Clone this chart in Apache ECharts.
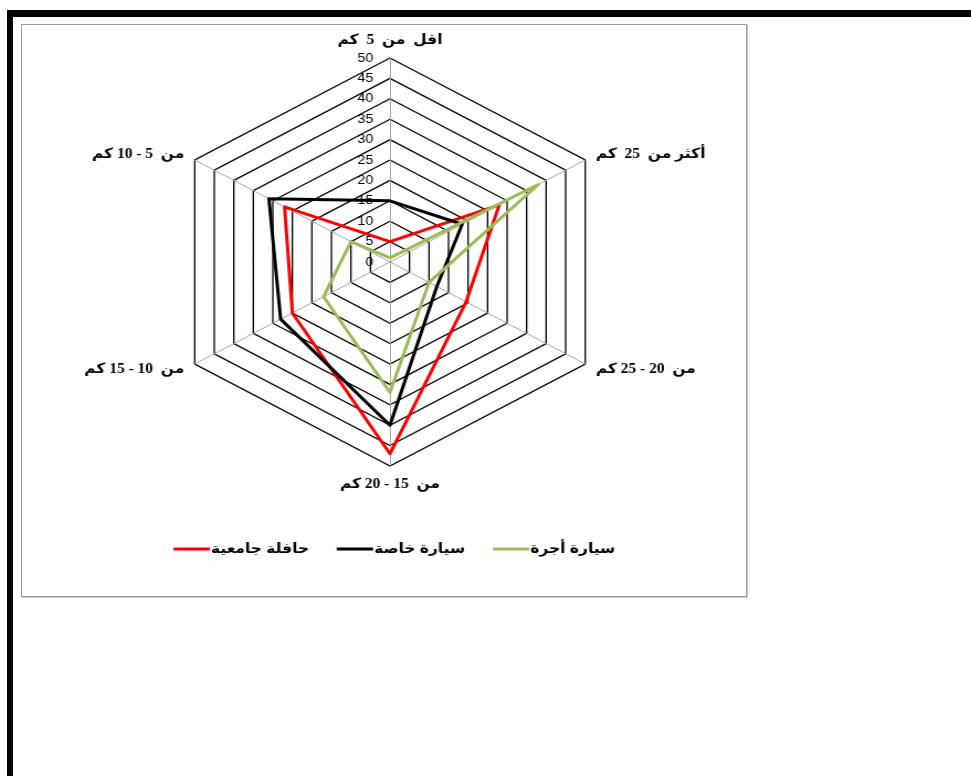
<!DOCTYPE html>
<html>
<head>
<meta charset="utf-8">
<script src="https://cdn.jsdelivr.net/npm/echarts@6/dist/echarts.min.js"></script>
<style>
  html, body { margin: 0; padding: 0; background: #fff; }
  body { width: 971px; height: 776px; position: relative; overflow: hidden; }
  .bar-top { position: absolute; left: 7px; top: 10px; width: 964px; height: 7px; background: #000; }
  .bar-left { position: absolute; left: 7px; top: 10px; width: 6px; height: 766px; background: #000; }
  .frame { position: absolute; left: 21px; top: 24px; width: 724px; height: 571px;
           border: 1px solid #9a9a9a; box-shadow: 1px 1px 0 #c8c8c8; background: #fff; }
  #chart { position: absolute; left: 22px; top: 24px; width: 656px; height: 573px;
           transform: scaleX(1.105); transform-origin: 0 0; }
</style>
</head>
<body>
<div class="bar-top"></div>
<div class="bar-left"></div>
<div class="frame"></div>
<div id="chart" dir="rtl"></div>
<script>
// Distance bands, listed counter-clockwise from the top spoke
const categories = [
  'اقل  من  5  كم',
  'من  5 - 10 كم',
  'من  10 - 15 كم',
  'من  15 - 20 كم',
  'من  20 - 25 كم',
  'أكثر من  25  كم'
];
const seriesNames = ['حافلة جامعية', 'سيارة خاصة', 'سيارة أجرة'];
const universityBus = [5, 27, 25, 47, 19.5, 28];
const privateCar    = [15, 31, 28, 40, 12, 18.5];
const taxi          = [1, 10, 17, 32, 10, 38];
const tickLabels = ['0', '5', '10', '15', '20', '25', '30', '35', '40', '45', '50'];
const axisMax = 50;

const colors = ['#ff0000', '#000000', '#9bbb59'];
const values = [universityBus, privateCar, taxi];

const chart = echarts.init(document.getElementById('chart'), null, { renderer: 'canvas' });

const indicator = categories.map((name, i) => {
  const item = { name: name, min: 0, max: axisMax };
  if (i === 0) {
    item.axisLabel = {
      show: true,
      color: '#000',
      fontFamily: 'Liberation Sans, Arial, sans-serif',
      fontSize: 13,
      margin: 15,
      formatter: v => tickLabels[Math.round(v / 5)]
    };
  }
  return item;
});

chart.setOption({
  animation: false,
  legend: {
    data: seriesNames,
    left: 132,
    top: 513,
    itemWidth: 33,
    itemHeight: 3,
    itemGap: 25,
    icon: 'rect',
    textStyle: {
      color: '#000',
      fontWeight: 'bold',
      fontSize: 14,
      padding: [0, 0, 0, -4],
      fontFamily: 'Liberation Sans, DejaVu Sans, sans-serif'
    }
  },
  radar: {
    center: [333, 238],
    radius: 204,
    startAngle: 90,
    splitNumber: 10,
    shape: 'polygon',
    indicator: indicator,
    axisName: {
      color: '#000',
      fontWeight: 'bold',
      fontSize: 14,
      fontFamily: 'Liberation Serif, DejaVu Sans, serif'
    },
    nameGap: 11,
    axisLine: { lineStyle: { color: '#a6a6a6', width: 1 } },
    splitLine: { lineStyle: { color: '#000', width: 1.3 } },
    splitArea: { show: false },
    axisTick: { show: false },
    axisLabel: { show: false }
  },
  series: [{
    type: 'radar',
    symbol: 'none',
    data: seriesNames.map((n, i) => ({
      name: n,
      value: values[i],
      lineStyle: { color: colors[i], width: 3 },
      itemStyle: { color: colors[i] }
    }))
  }]
});
</script>
</body>
</html>
